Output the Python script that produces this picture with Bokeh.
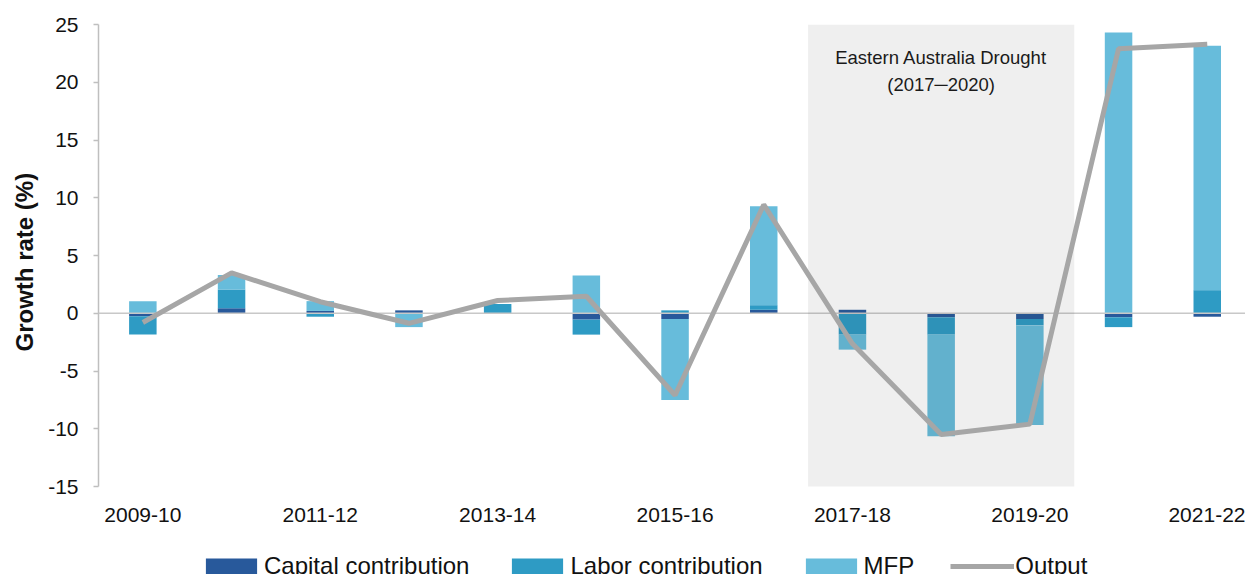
from bokeh.plotting import figure
from bokeh.models import FixedTicker, BoxAnnotation, Span, Label, Legend, Title
from bokeh.embed import file_html
from bokeh.resources import INLINE
import numpy as np

categories = ["2009-10", "2010-11", "2011-12", "2012-13", "2013-14", "2014-15", "2015-16",
              "2016-17", "2017-18", "2018-19", "2019-20", "2020-21", "2021-22"]
capital = [-0.25, 0.43, 0.2, 0.25, 0.0, -0.55, -0.5, 0.3, 0.3, -0.35, -0.5, -0.35, -0.3]
labor = [-1.6, 1.62, -0.3, 0.0, 0.8, -1.3, 0.25, 0.4, -1.85, -1.5, -0.55, -0.85, 2.0]
mfp = [1.04, 1.27, 0.85, -1.2, 0.0, 3.26, -7.0, 8.56, -1.3, -8.8, -8.63, 24.3, 21.17]
output = [-0.8, 3.5, 1.0, -0.87, 1.1, 1.47, -7.1, 9.4, -2.65, -10.5, -9.6, 22.9, 23.3]
y_ticks = [-15, -10, -5, 0, 5, 10, 15, 20, 25]
drought_start, drought_end = "2017-18", "2019-20"
drought_text = ["Eastern Australia Drought", "(2017\u25002020)"]
y_title = "Growth rate (%)"

FONT = "Liberation Sans"
xs = np.arange(len(categories))

# layout: the frame runs to the bottom of the canvas so the legend (drawn inside it)
# can sit below the category labels; the y axis itself covers -15..25
W, H, TOP, LEFT = 1245, 574, 24, 98
AXIS_PX = 462.0                      # pixel height of the -15..25 span
CAT_PX = 88.7                        # pixel width of one category slot
frame_h = H - TOP
frame_w = W - LEFT
y_lo = y_ticks[-1] - frame_h * (y_ticks[-1] - y_ticks[0]) / AXIS_PX
x_hi = -0.5 + frame_w / CAT_PX

p = figure(width=W, height=H, output_backend="svg", toolbar_location=None,
           x_range=(-0.5, x_hi), y_range=(y_lo, y_ticks[-1]),
           min_border_left=LEFT, min_border_right=0, min_border_top=TOP, min_border_bottom=0)
p.outline_line_color = None
p.xgrid.visible = False
p.ygrid.visible = False
p.background_fill_color = "white"

items = []
series = [("Capital contribution", capital, "#28599b"),
          ("Labor contribution", labor, "#2e9bc4"),
          ("MFP", mfp, "#67bcdb")]
pos = np.zeros(len(categories))
neg = np.zeros(len(categories))
for name, vals, col in series:
    v = np.array(vals, dtype=float)
    bottom = np.where(v >= 0, pos, neg)
    top = bottom + v
    pos = np.where(v >= 0, top, pos)
    neg = np.where(v < 0, top, neg)
    r = p.vbar(x=xs, width=0.31, bottom=bottom, top=top, fill_color=col, line_color=None)
    items.append((name, [r]))

p.add_layout(Span(location=0, dimension="width", line_color="#c8c8c8", line_width=1.5))

box = BoxAnnotation(left=categories.index(drought_start) - 0.5,
                    right=categories.index(drought_end) + 0.5,
                    bottom=y_ticks[0],
                    fill_color="#333333", fill_alpha=0.08, line_color=None)
p.add_layout(box)

ln = p.line(xs, output, line_color="#a6a6a6", line_width=5)
ln.level = "overlay"
items.append(("Output", [ln]))

mid = (categories.index(drought_start) + categories.index(drought_end)) / 2
for i, t in enumerate(drought_text):
    p.add_layout(Label(x=mid, y=22.1 - i * 2.3, text=t, text_align="center",
                       text_baseline="middle", text_font=FONT, text_font_size="18.5px",
                       text_color="#1a1a1a"))

# axes
p.xaxis.fixed_location = y_ticks[0]
p.xaxis.ticker = FixedTicker(ticks=list(range(0, len(categories), 2)))
p.xaxis.major_label_overrides = {i: categories[i] for i in range(0, len(categories), 2)}
p.xaxis.axis_line_color = None
p.xaxis.major_tick_line_color = None
p.xaxis.minor_tick_line_color = None
p.xaxis.major_tick_out = 0
p.xaxis.major_label_standoff = 21
p.xaxis.major_label_text_font = FONT
p.xaxis.major_label_text_font_size = "21px"
p.xaxis.major_label_text_color = "#111111"

p.yaxis.bounds = (y_ticks[0], y_ticks[-1])
p.yaxis.ticker = FixedTicker(ticks=y_ticks)
p.yaxis.major_label_overrides = {v: str(v) for v in y_ticks}
p.yaxis.axis_line_color = "#bfbfbf"
p.yaxis.axis_line_width = 1.5
p.yaxis.major_tick_line_color = "#bfbfbf"
p.yaxis.major_tick_line_width = 1.5
p.yaxis.major_tick_out = 5
p.yaxis.major_tick_in = 0
p.yaxis.minor_tick_line_color = None
p.yaxis.major_label_standoff = 15
p.yaxis.major_label_text_font = FONT
p.yaxis.major_label_text_font_size = "21px"
p.yaxis.major_label_text_color = "#111111"

# y axis title, anchored along the -15..25 span rather than the whole frame
yt = Title(text=y_title, align="left", offset=223, standoff=15,
           text_font=FONT, text_font_size="24px", text_font_style="bold",
           text_color="#111111")
p.add_layout(yt, "left")

leg = Legend(items=items, orientation="horizontal", location=(101, -6))
leg.padding = 0
leg.margin = 0
leg.spacing = 36
leg.label_standoff = 1
leg.glyph_width = 64
leg.glyph_height = 20
leg.border_line_color = None
leg.background_fill_alpha = 0
leg.label_text_font = FONT
leg.label_text_font_size = "24px"
leg.label_text_color = "#111111"
p.add_layout(leg)

open("out.html", "w").write(file_html(p, INLINE))
